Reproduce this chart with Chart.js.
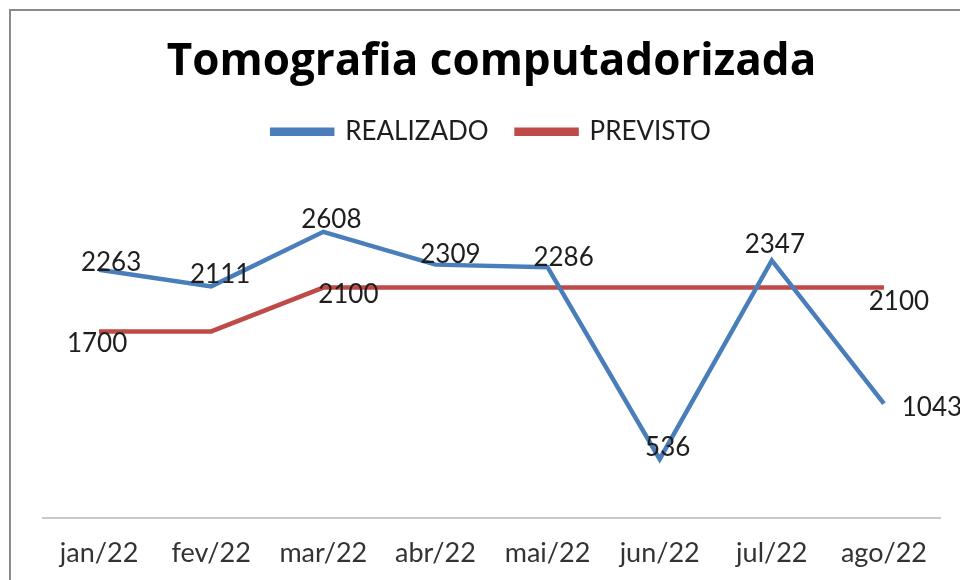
<!DOCTYPE html>
<html>
<head>
<meta charset="utf-8">
<script src="https://cdn.jsdelivr.net/npm/chart.js@4.4.1/dist/chart.umd.min.js"></script>
<style>
  html, body { margin: 0; padding: 0; background: #fff; overflow: hidden; }
  #frame { position: absolute; left: 9px; top: 9px; width: 1000px; height: 1000px;
           border-left: 2px solid #8a8a8a; border-top: 2px solid #8a8a8a; }
  #wrap { position: absolute; left: 0; top: 0; width: 960px; height: 580px; }
</style>
</head>
<body>
<div id="frame"></div>
<div id="wrap"><canvas id="chart" width="960" height="580"></canvas></div>
<script>
const months = ["jan/22", "fev/22", "mar/22", "abr/22", "mai/22", "jun/22", "jul/22", "ago/22"];
const realizado = [2263, 2111, 2608, 2309, 2286, 536, 2347, 1043];
const previsto = [1700, 1700, 2100, 2100, 2100, 2100, 2100, 2100];
// which previsto points carry a label in the original
const previstoShown = [true, false, true, false, false, false, false, true];

// label placement relative to each point (dx, dy)
const labelOffsets = [
  [[12, -7], [9, -12], [8, -12], [15, -10], [16, -10], [8, -12], [3, -16], [48, 4]],
  [[-2, 12], null, [25, 7], null, null, null, null, [15, 14]]
];

const BLUE = "#4a7ebb";
const RED = "#be4b48";
const FONT = "Lato, 'Open Sans', sans-serif";

const pointLabels = {
  id: "pointLabels",
  afterDatasetsDraw(chart) {
    const ctx = chart.ctx;
    ctx.save();
    ctx.font = "26px " + FONT;
    ctx.fillStyle = "#1e1e1e";
    ctx.textAlign = "center";
    ctx.textBaseline = "middle";
    chart.data.datasets.forEach((ds, i) => {
      const meta = chart.getDatasetMeta(i);
      meta.data.forEach((pt, j) => {
        const off = labelOffsets[i][j];
        if (!off) return;
        if (i === 1 && !previstoShown[j]) return;
        ctx.fillText(String(ds.data[j]), pt.x + off[0], pt.y + off[1]);
      });
    });
    ctx.restore();
  }
};

const legendGap = {
  id: "legendGap",
  beforeInit(chart) {
    const origFit = chart.legend.fit;
    chart.legend.fit = function () {
      origFit.bind(chart.legend)();
      this.height += 34;
    };
  }
};

new Chart(document.getElementById("chart"), {
  type: "line",
  data: {
    labels: months,
    datasets: [
      { label: "REALIZADO", data: realizado, borderColor: BLUE, backgroundColor: BLUE,
        borderWidth: 4.5, pointRadius: 0, tension: 0 },
      { label: "PREVISTO", data: previsto, borderColor: RED, backgroundColor: RED,
        borderWidth: 4.5, pointRadius: 0, tension: 0 }
    ]
  },
  options: {
    responsive: false,
    animation: false,
    layout: { padding: { left: 43, right: 20, top: 0, bottom: 0 } },
    plugins: {
      title: {
        display: true,
        text: "Tomografia computadorizada",
        color: "#000",
        font: { family: "'Open Sans', sans-serif", size: 44, weight: "bold" },
        padding: { top: 36, bottom: 2 }
      },
      legend: {
        display: true,
        labels: {
          color: "#1e1e1e",
          font: { family: FONT, size: 26 },
          boxWidth: 60,
          boxHeight: 4,
          padding: 28
        }
      },
      tooltip: { enabled: false }
    },
    scales: {
      x: {
        offset: true,
        grid: { display: false, drawTicks: false },
        border: { display: true, color: "#c8c8c8", width: 2 },
        ticks: { color: "#333", font: { family: FONT, size: 27 }, padding: 19, maxRotation: 0, autoSkip: false },
        afterFit(scale) { scale.height = 62; }
      },
      y: {
        display: false,
        min: 0,
        max: 3000
      }
    }
  },
  plugins: [pointLabels, legendGap]
});
</script>
</body>
</html>
